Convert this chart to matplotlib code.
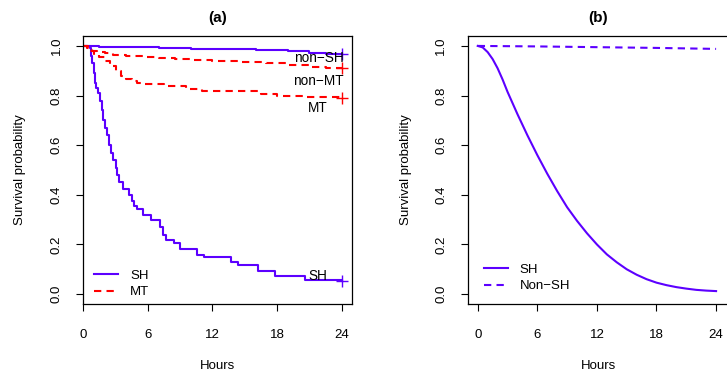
import matplotlib
matplotlib.use("Agg")
import matplotlib.pyplot as plt

plt.rcParams['font.family'] = ['Liberation Sans', 'DejaVu Sans']
plt.rcParams['font.size'] = 9.5

BLUE = '#5c00ff'
RED = '#ff0000'

## panel (a): Kaplan-Meier curves (step functions)
sh_t = [0, 0.65, 0.75, 0.85, 0.95, 1.05, 1.2, 1.4, 1.55, 1.7, 1.85, 2.0, 2.2, 2.4, 2.6, 2.8,
        3.0, 3.15, 3.3, 3.65, 4.2, 4.5, 4.75, 4.95, 5.55, 6.3, 7.1, 7.4, 7.7, 8.4, 9.0,
        10.6, 11.2, 13.7, 14.4, 16.25, 17.8, 20.6, 24]
sh_s = [1.0, 0.99, 0.96, 0.93, 0.89, 0.85, 0.83, 0.81, 0.78, 0.74, 0.70, 0.67, 0.64, 0.60, 0.57, 0.54,
        0.51, 0.48, 0.45, 0.424, 0.40, 0.375, 0.355, 0.341, 0.32, 0.297, 0.27, 0.24, 0.218, 0.204, 0.18,
        0.158, 0.148, 0.131, 0.118, 0.094, 0.071, 0.057, 0.057]

nonsh_t = [0, 1.5, 4, 7, 10, 13.5, 16, 19, 21, 22.5, 24]
nonsh_s = [1.0, 0.997, 0.994, 0.991, 0.988, 0.986, 0.983, 0.978, 0.972, 0.967, 0.967]

nonmt_t = [0, 0.4, 0.8, 1.3, 2.0, 2.8, 4.0, 5.5, 7.0, 8.5, 10.0, 12.0, 14.5, 17.0, 19.0, 21.0, 22.5, 24]
nonmt_s = [1.0, 0.99, 0.98, 0.975, 0.97, 0.965, 0.96, 0.957, 0.953, 0.948, 0.944, 0.94, 0.935, 0.93,
           0.922, 0.917, 0.912, 0.912]

mt_t = [0, 0.3, 0.6, 1.0, 1.5, 2.0, 2.5, 3.0, 3.5, 4.0, 4.5, 5.0, 5.6, 7.5, 9.5, 11.0, 14.0, 16.5,
        18.0, 20.5, 24]
mt_s = [1.0, 0.99, 0.98, 0.965, 0.955, 0.94, 0.92, 0.9, 0.877, 0.866, 0.858, 0.852, 0.845, 0.837,
        0.827, 0.82, 0.817, 0.806, 0.80, 0.793, 0.79]

## panel (b): fitted curves
fit_sh_t = [0, 0.5, 1, 1.5, 2, 2.5, 3, 3.5, 4, 5, 6, 7, 8, 9, 10, 11, 12, 13, 14, 15, 16, 17, 18,
            19, 20, 21, 22, 23, 24]
fit_sh_s = [1.0, 0.994, 0.975, 0.947, 0.91, 0.865, 0.815, 0.77, 0.725, 0.64, 0.56, 0.485, 0.415,
            0.35, 0.295, 0.245, 0.2, 0.16, 0.128, 0.1, 0.078, 0.06, 0.046, 0.036, 0.028, 0.022,
            0.017, 0.014, 0.012]
fit_nonsh_t = [0, 6, 12, 18, 24]
fit_nonsh_s = [1.0, 0.998, 0.995, 0.992, 0.988]

xticks = [0, 6, 12, 18, 24]
yticks = [0.0, 0.2, 0.4, 0.6, 0.8, 1.0]

fig = plt.figure(figsize=(7.27, 3.80), dpi=100)
ax1 = fig.add_axes([83.3 / 727, 0.2, (352 - 83.3) / 727, 268 / 380])
ax2 = fig.add_axes([468 / 727, 0.2, (728 - 468) / 727, 268 / 380])


def style(ax, title):
    ax.set_ylim(-0.04, 1.04)
    ax.set_xticks(xticks)
    ax.set_yticks(yticks)
    ax.set_yticklabels(['%.1f' % v for v in yticks], rotation=90, va='center')
    ax.tick_params(axis='both', direction='out', length=5, width=0.8, labelsize=9.5)
    ax.tick_params(axis='x', pad=13)
    ax.tick_params(axis='y', pad=10)
    for sp in ax.spines.values():
        sp.set_linewidth(0.9)
    ax.set_xlabel('Hours', fontsize=9.5)
    ax.set_ylabel('Survival probability', fontsize=9.5)
    ax.xaxis.set_label_coords(0.5, -0.21)
    ax.yaxis.set_label_coords(-0.215, 0.5)
    ax.set_title(title, fontsize=11, fontweight='bold', pad=10)


dash = (3.5, 2.5)

## panel (a)
ax1.set_xlim(0, 24.96)
ax1.step(sh_t, sh_s, where='post', color=BLUE, lw=1.5, label='SH')
ax1.step(nonsh_t, nonsh_s, where='post', color=BLUE, lw=1.5)
ax1.step(mt_t, mt_s, where='post', color=RED, lw=1.5, dashes=dash, label='MT')
ax1.step(nonmt_t, nonmt_s, where='post', color=RED, lw=1.5, dashes=dash)
ax1.plot([sh_t[-1], nonsh_t[-1]], [sh_s[-1] - 0.005, nonsh_s[-1]], '+', color=BLUE, ms=8, mew=1)
ax1.plot([mt_t[-1], nonmt_t[-1]], [mt_s[-1], nonmt_s[-1]], '+', color=RED, ms=8, mew=1)
ax1.text(24.2, 0.95, 'non\u2212SH', ha='right', va='center', fontsize=9.8)
ax1.text(24.2, 0.86, 'non\u2212MT', ha='right', va='center', fontsize=9.8)
ax1.text(22.7, 0.75, 'MT', ha='right', va='center', fontsize=9.8)
ax1.text(22.7, 0.073, 'SH', ha='right', va='center', fontsize=9.8)
style(ax1, '(a)')
ax1.legend(loc='upper left', bbox_to_anchor=(0.04, 0.128), frameon=False, fontsize=9.5,
           handlelength=1.85, handletextpad=0.9, labelspacing=0.3, borderpad=0, borderaxespad=0)

## panel (b)
ax2.set_xlim(-0.98, 25.2)
ax2.plot(fit_sh_t, fit_sh_s, color=BLUE, lw=1.5, label='SH')
ax2.plot(fit_nonsh_t, fit_nonsh_s, color=BLUE, lw=1.5, dashes=dash, label='Non\u2212SH')
style(ax2, '(b)')
ax2.legend(loc='upper left', bbox_to_anchor=(0.06, 0.15), frameon=False, fontsize=9.5,
           handlelength=1.85, handletextpad=0.9, labelspacing=0.3, borderpad=0, borderaxespad=0)

fig.savefig('out.png', dpi=100)
